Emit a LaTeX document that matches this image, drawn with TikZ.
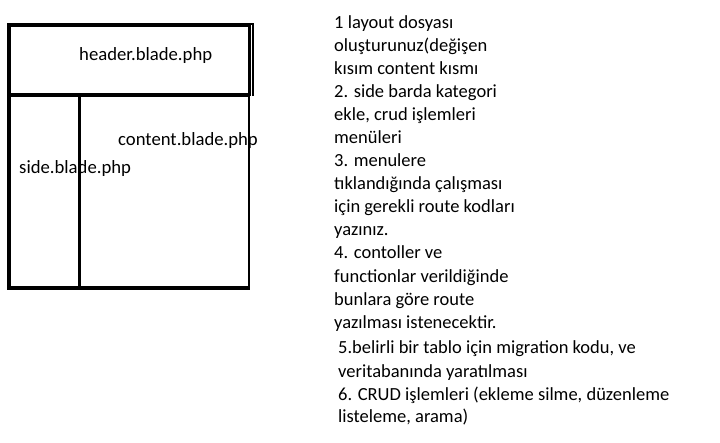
\documentclass[tikz,border=0pt]{standalone}
\usepackage{fontspec}
\setmainfont{Carlito}
\begin{document}
\begin{tikzpicture}[x=1pt,y=-1pt,
  thickline/.style={line width=4pt},
  thinline/.style={line width=2.6pt},
  boxlabel/.style={anchor=base west,inner sep=0pt,font=\fontsize{18.7}{20}\selectfont},
  tasktext/.style={anchor=base west,inner sep=0pt,font=\fontsize{18.5}{20}\selectfont}]
\useasboundingbox (0,0) rectangle (720,442);
\fill[white] (0,0) rectangle (720,442);
% header box
\draw[thickline] (249.5,25.3) -- (9.2,25.3) -- (9.2,94.5) -- (249.5,94.5);
\draw[thinline] (249.5,24) -- (249.5,95.5);
\draw[line width=2pt] (252.8,23.5) -- (252.8,96);
\draw[line width=2pt] (249,24.2) -- (253.8,24.2);
% lower part
\draw[thickline] (9.2,94.5) -- (9.2,288) -- (249.5,288);
\draw[thinline] (79.5,94.5) -- (79.5,288);
\draw[thinline] (248.8,94.5) -- (248.8,289);
% labels
\node[boxlabel] (header) at (79,60) {header.blade.php};
\node[boxlabel] (content) at (118,145) {content.blade.php};
\node[boxlabel] (side) at (19,173) {side.blade.php};
% task list
\foreach \yy/\tt [count=\i] in {28/{1 layout dosyası},51.5/{oluşturunuz(değişen},74.5/{kısım content kısmı},97.5/{2. side barda kategori},120/{ekle, crud işlemleri},143/{menüleri},166/{3. menulere},189/{tıklandığında çalışması},212/{için gerekli route kodları},235/{yazınız.},258/{4. contoller ve},282/{functionlar verildiğinde},305/{bunlara göre route},328/{yazılması istenecektir.}}
  \node[tasktext] (t\i) at (334,\yy) {\tt};
\foreach \yy/\tt [count=\i from 15] in {353/{5.belirli bir tablo için migration kodu, ve},377/{veritabanında yaratılması},400/{6. CRUD işlemleri (ekleme silme, düzenleme},422/{listeleme, arama)}}
  \node[tasktext] (t\i) at (338,\yy) {\tt};
\end{tikzpicture}
\end{document}
